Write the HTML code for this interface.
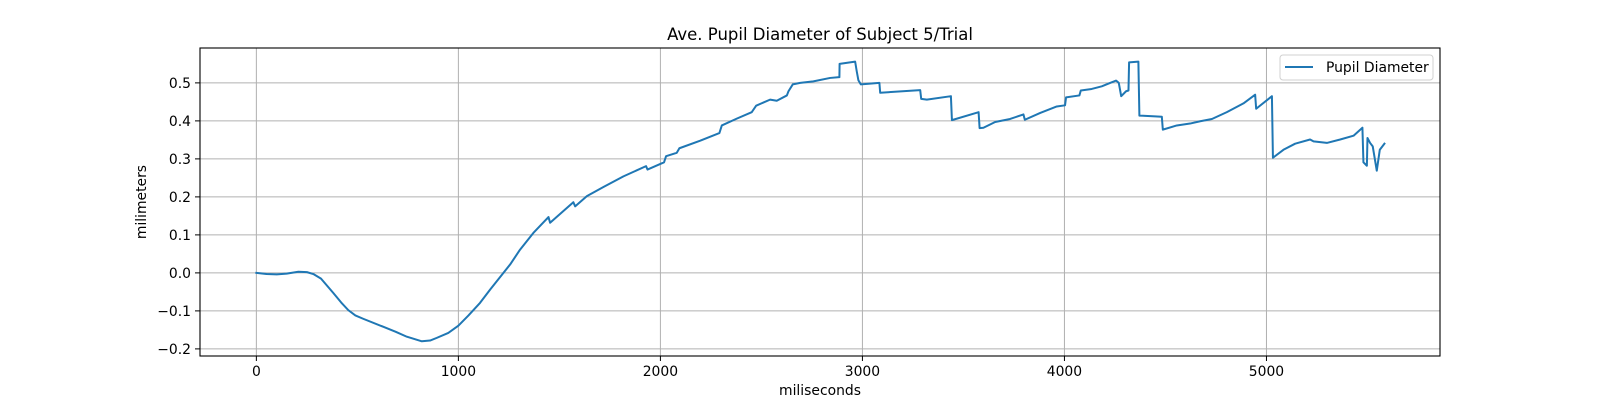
<!DOCTYPE html>
<html><head><meta charset="utf-8">
<style>
html,body{margin:0;padding:0;background:#fff;}
svg{display:block;font-family:"DejaVu Sans","Liberation Sans",sans-serif;}
</style></head>
<body>
<svg id="chart" width="1600" height="400" viewBox="0 0 1600 400">
  <rect x="0" y="0" width="1600" height="400" fill="#fff"/>
  <g id="grid"></g>
  <g id="series"></g>
  <rect x="200" y="48" width="1240" height="308" fill="none" stroke="#000" stroke-width="1.1"/>
  <g id="xticks"></g>
  <g id="yticks"></g>
  <text x="820" y="40" text-anchor="middle" font-size="16.5" fill="#000">Ave. Pupil Diameter of Subject 5/Trial</text>
  <text x="820" y="395" text-anchor="middle" font-size="13.9" fill="#000">miliseconds</text>
  <text x="146" y="202" text-anchor="middle" font-size="13.9" fill="#000" transform="rotate(-90 146 202)">milimeters</text>
  <g>
    <rect x="1280" y="55" width="153" height="25" rx="3" fill="#fff" fill-opacity="0.8" stroke="#d0d0d0"/>
    <line x1="1285" y1="67" x2="1313" y2="67" stroke="#1f77b4" stroke-width="2"/>
    <text x="1326" y="72" font-size="13.9" fill="#000">Pupil Diameter</text>
  </g>
</svg>
<script>
const times = [0,50,101,150,208,250,282,320,381,420,455,490,530,629,690,745,819,860,893,950,1000,1050,1107,1157,1223,1256,1305,1371,1446,1454,1569,1578,1636,1718,1817,1929,1936,2018,2028,2081,2094,2197,2292,2304,2378,2452,2474,2543,2576,2626,2634,2655,2692,2757,2840,2886,2887,2964,2972,2980,2992,3084,3088,3286,3291,3319,3438,3443,3575,3580,3599,3657,3731,3797,3804,3880,3962,4003,4008,4074,4081,4135,4185,4226,4256,4269,4281,4305,4317,4320,4366,4371,4449,4482,4487,4556,4622,4672,4730,4804,4886,4944,4949,5027,5032,5084,5142,5216,5233,5299,5365,5431,5475,5480,5497,5500,5513,5526,5546,5561,5584];
const values = [0,-0.003,-0.004,-0.002,0.003,0.002,-0.003,-0.015,-0.053,-0.078,-0.098,-0.112,-0.121,-0.142,-0.155,-0.168,-0.180,-0.178,-0.171,-0.158,-0.139,-0.112,-0.079,-0.044,0.0,0.022,0.061,0.105,0.147,0.132,0.186,0.175,0.202,0.226,0.254,0.281,0.272,0.291,0.307,0.316,0.328,0.348,0.368,0.388,0.406,0.423,0.440,0.456,0.453,0.467,0.478,0.496,0.500,0.504,0.513,0.515,0.550,0.556,0.530,0.507,0.496,0.500,0.474,0.481,0.458,0.456,0.465,0.402,0.423,0.381,0.382,0.397,0.405,0.417,0.403,0.421,0.438,0.441,0.462,0.467,0.480,0.484,0.491,0.500,0.506,0.500,0.465,0.478,0.480,0.554,0.556,0.414,0.412,0.411,0.377,0.388,0.393,0.399,0.405,0.423,0.446,0.469,0.432,0.465,0.303,0.324,0.340,0.351,0.346,0.342,0.351,0.361,0.382,0.291,0.282,0.355,0.342,0.333,0.269,0.324,0.340];
const xTicks = [0,1000,2000,3000,4000,5000];
const yTicks = [-0.2,-0.1,0.0,0.1,0.2,0.3,0.4,0.5];
const yTickLabels = ["\u22120.2","\u22120.1","0.0","0.1","0.2","0.3","0.4","0.5"];

const NS = "http://www.w3.org/2000/svg";
const X0 = 200, X1 = 1440, Y0 = 48, Y1 = 356;
const xMin = -279, xMax = 5859, yMin = -0.2187, yMax = 0.5918;
function xs(v){ return X0 + (v - xMin) / (xMax - xMin) * (X1 - X0); }
function ys(v){ return Y1 - (v - yMin) / (yMax - yMin) * (Y1 - Y0); }
function mk(tag, attrs, parent){
  const e = document.createElementNS(NS, tag);
  for (const k in attrs) e.setAttribute(k, attrs[k]);
  parent.appendChild(e);
  return e;
}
const grid = document.getElementById('grid');
const xt = document.getElementById('xticks');
const yt = document.getElementById('yticks');
xTicks.forEach(function(t){
  const x = xs(t);
  const g = mk('line', {x1:x, x2:x, y1:Y0, y2:Y1, stroke:'#b0b0b0', 'stroke-width':1}, grid);
  
  
  const tk = mk('line', {x1:x, x2:x, y1:Y1, y2:Y1+5, stroke:'#000', 'stroke-width':1}, xt);
  
  
  const lb = mk('text', {x:x, y:Y1+20, 'text-anchor':'middle', 'font-size':13.9, fill:'#000'}, xt);
  lb.textContent = String(t);
  
  
});
yTicks.forEach(function(t, i){
  const y = ys(t);
  const g = mk('line', {x1:X0, x2:X1, y1:y, y2:y, stroke:'#b0b0b0', 'stroke-width':1}, grid);
  
  
  const tk = mk('line', {x1:X0-5, x2:X0, y1:y, y2:y, stroke:'#000', 'stroke-width':1}, yt);
  
  
  const lb = mk('text', {x:X0-9, y:y+5, 'text-anchor':'end', 'font-size':13.9, fill:'#000'}, yt);
  lb.textContent = yTickLabels[i];
  
  
});
const pts = times.map(function(t, i){ return xs(t).toFixed(2) + ',' + ys(values[i]).toFixed(2); }).join(' ');
const line = mk('polyline', {points:pts, fill:'none', stroke:'#1f77b4', 'stroke-width':2, 'stroke-linejoin':'round', 'stroke-linecap':'square'}, document.getElementById('series'));


</script>
</body></html>
